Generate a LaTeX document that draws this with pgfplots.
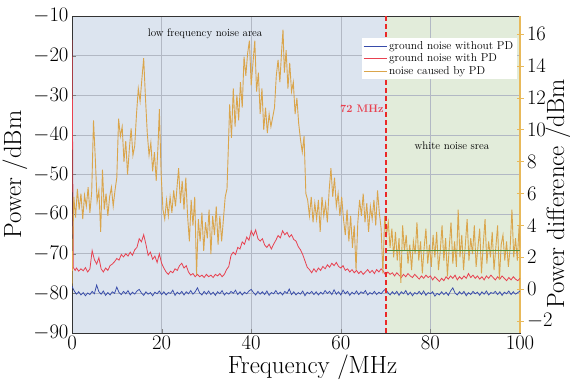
\documentclass[border=0pt]{standalone}
\usepackage{pgfplots}
\pgfplotsset{compat=1.18}
\usetikzlibrary{calc}
\definecolor{cblue}{RGB}{55,75,170}
\definecolor{cred}{RGB}{232,65,80}
\definecolor{cdash}{RGB}{235,40,40}
\definecolor{corange}{RGB}{218,165,75}
\definecolor{bgblue}{RGB}{220,228,239}
\definecolor{bggreen}{RGB}{226,236,218}
\definecolor{cgreen}{RGB}{80,140,60}
\definecolor{gridc}{RGB}{178,184,196}
\definecolor{raxis}{RGB}{232,185,90}
\begin{document}
\begin{tikzpicture}
\begin{axis}[name=main, set layers, scale only axis, width=448bp, height=317bp,
  xmin=0, xmax=100, ymin=-90, ymax=-10,
  xtick={0,20,...,100}, ytick={-90,-80,...,-10},
  grid=major, grid style={gridc, line width=0.5pt},
  tick align=inside, xtick pos=bottom, ytick pos=left,
  major tick length=4bp,
  tick label style={font=\fontsize{20.5}{20.5}\selectfont},
  xlabel={Frequency /MHz}, ylabel={Power /dBm},
  xlabel style={font=\fontsize{25}{25}\selectfont, at={(axis description cs:0.537,0)}, anchor=center, yshift=-34bp},
  ylabel style={font=\fontsize{25}{25}\selectfont, at={(axis description cs:0,0.5)}, anchor=center, yshift=57bp},
  axis line style={black!80, line width=0.8pt},
  clip=true]
\begin{pgfonlayer}{axis background}
\fill[bgblue] (axis cs:0,-90) rectangle (axis cs:70,-10);
\fill[bggreen] (axis cs:70,-90) rectangle (axis cs:100,-10);
\end{pgfonlayer}
\addplot[cblue, line width=0.75pt] coordinates {
(0,-78.2)(0.5,-79.4)(1,-80.2)(1.5,-79.6)(2,-80.4)(2.5,-79.8)(3,-80.6)(3.5,-79.9)(4,-80.3)(4.5,-79.5)
(5,-80.1)(5.5,-77.9)(6,-79.6)(6.5,-80.2)(7,-79.4)(7.5,-80.5)(8,-79.8)(8.5,-80.4)(9,-79.6)(9.5,-80.0)
(10,-78.4)(10.5,-79.8)(11,-80.3)(11.5,-79.5)(12,-80.1)(12.5,-79.3)(13,-80.4)(13.5,-79.7)(14,-80.2)(14.5,-79.4)
(15,-79.0)(15.5,-79.9)(16,-80.5)(16.5,-79.6)(17,-80.2)(17.5,-79.8)(18,-80.6)(18.5,-79.7)(19,-80.1)(19.5,-79.4)
(20,-80.3)(20.5,-79.6)(21,-80.4)(21.5,-79.8)(22,-80.0)(22.5,-79.2)(23,-80.5)(23.5,-79.7)(24,-80.2)(24.5,-79.5)
(25,-80.4)(25.5,-79.6)(26,-80.1)(26.5,-79.3)(27,-80.2)(27.5,-79.6)(28,-78.6)(28.5,-79.9)(29,-80.4)(29.5,-79.5)
(30,-80.2)(30.5,-79.4)(31,-80.3)(31.5,-79.7)(32,-80.5)(32.5,-79.6)(33,-80.1)(33.5,-79.3)(34,-80.4)(34.5,-79.8)
(35,-80.2)(35.5,-79.5)(36,-80.0)(36.5,-79.2)(37,-80.3)(37.5,-79.6)(38,-80.4)(38.5,-79.7)(39,-80.1)(39.5,-79.4)
(40,-79.0)(40.5,-79.8)(41,-80.4)(41.5,-79.5)(42,-80.2)(42.5,-79.6)(43,-80.3)(43.5,-79.4)(44,-80.5)(44.5,-79.8)
(45,-80.1)(45.5,-79.3)(46,-80.2)(46.5,-79.7)(47,-80.4)(47.5,-79.5)(48,-80.0)(48.5,-78.9)(49,-80.3)(49.5,-79.6)
(50,-80.4)(50.5,-79.8)(51,-80.2)(51.5,-79.4)(52,-80.6)(52.5,-79.7)(53,-80.1)(53.5,-79.5)(54,-80.3)(54.5,-79.6)
(55,-80.4)(55.5,-79.7)(56,-80.2)(56.5,-79.3)(57,-80.0)(57.5,-79.5)(58,-80.3)(58.5,-79.1)(59,-80.2)(59.5,-79.6)
(60,-80.4)(60.5,-79.2)(61,-80.1)(61.5,-79.5)(62,-80.5)(62.5,-79.7)(63,-80.2)(63.5,-79.4)(64,-80.3)(64.5,-79.6)
(65,-80.0)(65.5,-79.3)(66,-80.4)(66.5,-79.8)(67,-80.2)(67.5,-79.5)(68,-80.3)(68.5,-79.7)(69,-80.1)(69.5,-79.4)
(70,-78.9)(70.5,-79.8)(71,-80.4)(71.5,-79.6)(72,-80.2)(72.5,-79.5)(73,-80.5)(73.5,-79.6)(74,-80.1)(74.5,-79.3)
(75,-80.4)(75.5,-79.7)(76,-80.6)(76.5,-79.8)(77,-80.2)(77.5,-79.5)(78,-80.3)(78.5,-79.4)(79,-80.5)(79.5,-79.8)
(80,-80.1)(80.5,-79.6)(81,-80.7)(81.5,-80.0)(82,-80.4)(82.5,-79.6)(83,-80.3)(83.5,-79.7)(84,-80.5)(84.5,-79.4)
(85,-78.6)(85.5,-79.9)(86,-80.4)(86.5,-79.6)(87,-80.2)(87.5,-79.5)(88,-80.6)(88.5,-79.8)(89,-80.3)(89.5,-79.5)
(90,-80.1)(90.5,-79.7)(91,-80.5)(91.5,-79.6)(92,-80.2)(92.5,-79.4)(93,-80.4)(93.5,-79.8)(94,-80.0)(94.5,-79.5)
(95,-80.3)(95.5,-79.6)(96,-80.5)(96.5,-79.7)(97,-80.1)(97.5,-79.4)(98,-80.3)(98.5,-79.6)(99,-80.2)(99.5,-79.8)(100,-79.4)
};
\addplot[cred, line width=0.8pt] coordinates {
(0,-16)(0.3,-73.5)(0.7,-74.2)(1.0,-73.6)(1.5,-74.4)(2.0,-73.8)(2.5,-74.3)(3.0,-73.5)(3.5,-74.6)(4.0,-73.8)
(4.5,-69.2)(5.0,-71.5)(5.5,-72.6)(6.0,-71.0)(6.5,-73.8)(7.0,-74.6)(7.5,-73.6)(8.0,-74.2)(8.5,-73.0)(9.0,-72.6)
(9.5,-72.0)(10.0,-71.2)(10.5,-71.6)(11.0,-70.2)(11.5,-70.8)(12.0,-70.0)(12.5,-70.6)(13.0,-69.6)(13.5,-70.4)(14.0,-69.0)
(14.5,-68.4)(15.0,-66.2)(15.5,-67.0)(16.0,-65.2)(16.5,-67.6)(17.0,-70.4)(17.5,-69.6)(18.0,-71.4)(18.5,-70.6)(19.0,-72.2)
(19.5,-70.0)(20.0,-72.4)(20.5,-73.6)(21.0,-74.6)(21.5,-75.2)(22.0,-74.4)(22.5,-74.8)(23.0,-73.8)(23.5,-74.2)(24.0,-73.0)
(24.5,-72.4)(25.0,-73.6)(25.5,-73.0)(26.0,-74.6)(26.5,-75.4)(27.0,-75.0)(27.5,-75.8)(28.0,-75.2)(28.5,-75.8)(29.0,-75.4)
(29.5,-76.0)(30.0,-75.2)(30.5,-75.8)(31.0,-75.4)(31.5,-76.0)(32.0,-75.2)(32.5,-75.6)(33.0,-75.0)(33.5,-75.8)(34.0,-75.2)
(34.5,-74.0)(35.0,-73.2)(35.5,-70.4)(36.0,-69.6)(36.5,-70.2)(37.0,-68.4)(37.5,-68.8)(38.0,-67.0)(38.5,-67.6)(39.0,-65.8)
(39.5,-66.6)(40.0,-64.2)(40.5,-65.4)(41.0,-64.0)(41.5,-66.2)(42.0,-66.8)(42.5,-66.2)(43.0,-67.8)(43.5,-68.4)(44.0,-67.6)
(44.5,-68.8)(45.0,-67.6)(45.5,-66.6)(46.0,-65.4)(46.5,-66.0)(47.0,-64.2)(47.5,-65.2)(48.0,-64.6)(48.5,-65.8)(49.0,-65.2)
(49.5,-66.4)(50.0,-66.8)(50.5,-68.2)(51.0,-69.0)(51.5,-70.2)(52.0,-71.8)(52.5,-73.4)(53.0,-74.0)(53.5,-74.8)(54.0,-73.8)
(54.5,-74.6)(55.0,-73.6)(55.5,-74.2)(56.0,-73.2)(56.5,-73.8)(57.0,-72.8)(57.5,-73.4)(58.0,-72.4)(58.5,-73.0)(59.0,-72.2)
(59.5,-73.2)(60.0,-73.6)(60.5,-73.0)(61.0,-74.2)(61.5,-73.8)(62.0,-74.6)(62.5,-74.0)(63.0,-74.8)(63.5,-74.2)(64.0,-75.0)
(64.5,-74.4)(65.0,-75.2)(65.5,-74.6)(66.0,-74.0)(66.5,-74.8)(67.0,-74.2)(67.5,-75.0)(68.0,-74.0)(68.5,-74.6)(69.0,-73.8)
(69.5,-74.4)(70.0,-75.4)(70.5,-74.6)(71.0,-75.2)(71.5,-74.8)(72.0,-75.6)(72.5,-74.8)(73.0,-75.4)(73.5,-76.0)(74.0,-75.2)
(74.5,-75.8)(75.0,-75.0)(75.5,-75.6)(76.0,-76.0)(76.5,-75.2)(77.0,-75.8)(77.5,-76.4)(78.0,-75.6)(78.5,-76.2)(79.0,-75.4)
(79.5,-76.0)(80.0,-75.6)(80.5,-76.6)(81.0,-75.8)(81.5,-76.4)(82.0,-77.0)(82.5,-76.2)(83.0,-76.8)(83.5,-75.8)(84.0,-76.4)
(84.5,-75.6)(85.0,-76.2)(85.5,-75.4)(86.0,-76.6)(86.5,-75.8)(87.0,-76.4)(87.5,-75.6)(88.0,-76.2)(88.5,-75.0)(89.0,-76.0)
(89.5,-75.4)(90.0,-76.2)(90.5,-75.6)(91.0,-76.4)(91.5,-75.8)(92.0,-76.6)(92.5,-75.6)(93.0,-76.2)(93.5,-75.4)(94.0,-76.0)
(94.5,-76.6)(95.0,-75.8)(95.5,-76.4)(96.0,-75.6)(96.5,-76.2)(97.0,-76.8)(97.5,-76.0)(98.0,-76.6)(98.5,-75.8)(99.0,-76.4)
(99.5,-76.8)(100,-76.2)
};
\node[font=\fontsize{11}{11}\selectfont] at (axis cs:29.7,-14.5) {low frequency noise area};
\node[font=\fontsize{11}{11}\selectfont\bfseries, text=cred] at (axis cs:64.7,-33.3) {72 MHz};
\node[font=\fontsize{11}{11}\selectfont] at (axis cs:84.8,-42.8) {white noise srea};
\end{axis}
\begin{axis}[set layers, scale only axis, width=448bp, height=317bp,
  xmin=0, xmax=100, ymin=-2.75, ymax=17.15,
  axis x line=none, axis y line*=right,
  ytick={-2,0,...,16},
  y axis line style={raxis, line width=1.2pt},
  ytick style={raxis, line width=0.8pt},
  tick align=center, major tick length=7bp,
  tick label style={font=\fontsize{20.5}{20.5}\selectfont},
  ylabel={Power difference /dBm},
  ylabel style={font=\fontsize{25}{25}\selectfont, at={(axis description cs:1,0.44)}, anchor=center, yshift=-38bp},
  legend style={at={(rel axis cs:0.993,0.931)}, anchor=north east, draw=none, fill=white,
    font=\fontsize{11.5}{13}\selectfont, inner sep=1.5pt, row sep=-1pt},
  legend cell align=left,
  legend image code/.code={\draw[#1] (0bp,0bp) -- (23bp,0bp);},
  clip=true]
\addlegendimage{cblue, line width=0.8pt}
\addlegendentry{ground noise without PD}
\addlegendimage{cred, line width=0.8pt}
\addlegendentry{ground noise with PD}
\addplot[corange, line width=0.9pt] coordinates {
(0.0,0.2)(0.2,3.0)(0.4,5.8)(0.8,4.5)(1.2,6.3)(1.6,5.0)(2.0,6.0)(2.4,4.4)(2.8,5.9)(3.2,5.2)
(3.6,6.4)(4.0,4.8)(4.4,6.1)(4.8,10.6)(5.2,8.2)(5.6,5.5)(6.0,6.2)(6.4,3.6)(6.8,7.5)(7.2,5.0)
(7.6,6.0)(8.0,4.6)(8.4,5.8)(8.8,6.4)(9.2,5.2)(9.6,6.2)(10.0,7.0)(10.4,10.7)(10.8,9.6)(11.2,10.2)
(11.6,8.0)(12.0,9.3)(12.4,7.2)(12.8,8.8)(13.2,10.1)(13.6,8.4)(14.0,9.0)(14.4,11.0)(14.8,12.6)(15.2,11.8)
(15.6,13.2)(16.0,14.5)(16.4,12.0)(16.8,9.8)(17.2,8.4)(17.6,9.2)(18.0,7.4)(18.4,8.6)(18.8,6.8)(19.2,9.0)
(19.5,11.3)(19.9,7.2)(20.3,5.0)(20.7,4.4)(21.1,5.6)(21.5,4.6)(21.9,5.8)(22.3,4.8)(22.7,6.2)(23.1,5.2)
(23.5,6.6)(23.8,7.6)(24.2,5.4)(24.6,6.8)(25.0,5.0)(25.4,7.0)(25.8,4.6)(26.2,3.0)(26.6,5.6)(27.0,4.0)
(27.4,5.8)(27.8,0.9)(28.2,4.4)(28.6,3.0)(29.0,4.8)(29.4,2.4)(29.8,4.2)(30.2,3.2)(30.6,5.0)(31.0,2.2)
(31.4,4.6)(31.8,3.4)(32.2,5.2)(32.6,2.8)(33.0,4.6)(33.4,3.0)(33.8,4.4)(34.2,5.8)(34.6,6.3)(34.9,8.9)
(35.2,11.6)(35.6,9.5)(36.0,12.6)(36.4,10.2)(36.8,12.2)(37.2,10.6)(37.6,13.0)(38.0,11.4)(38.4,14.6)(38.8,13.4)
(39.2,14.8)(39.6,15.6)(40.0,12.8)(40.4,14.2)(40.8,15.6)(41.2,12.4)(41.6,13.6)(42.0,11.0)(42.4,12.6)(42.8,10.0)
(43.2,11.4)(43.6,9.8)(44.0,11.0)(44.4,10.2)(44.8,10.8)(45.2,11.4)(45.6,13.4)(46.0,14.4)(46.4,13.0)(46.8,15.0)
(47.1,16.3)(47.4,13.6)(47.8,15.0)(48.2,12.6)(48.6,14.2)(49.0,12.4)(49.4,13.0)(49.8,11.0)(50.2,12.0)(50.6,10.4)
(51.0,9.4)(51.4,8.6)(51.8,9.6)(52.2,6.0)(52.6,5.6)(53.0,4.6)(53.4,5.8)(53.8,4.2)(54.2,5.4)(54.6,4.4)
(55.0,5.6)(55.4,3.6)(55.8,5.8)(56.2,4.6)(56.6,5.4)(57.0,4.2)(57.4,6.2)(57.8,7.6)(58.2,5.8)(58.6,7.0)
(59.0,5.2)(59.4,6.0)(59.8,4.6)(60.2,5.8)(60.6,4.4)(61.0,3.4)(61.4,5.0)(61.8,3.0)(62.2,4.6)(62.6,2.6)
(63.0,4.0)(63.4,1.2)(63.8,4.2)(64.2,5.6)(64.6,4.6)(65.0,6.0)(65.4,4.2)(65.8,5.4)(66.2,3.6)(66.6,5.2)
(67.0,4.4)(67.4,5.6)(67.8,4.0)(68.2,6.2)(68.6,4.8)(69.0,3.8)(69.4,1.0)(69.8,4.6)(70.2,3.4)(70.6,4.2)
(71.0,2.6)(71.4,3.8)(71.8,2.0)(72.2,3.6)(72.6,1.8)(73.0,3.2)(73.4,0.4)(73.8,4.0)(74.2,2.4)(74.6,3.4)
(75.0,1.6)(75.4,2.8)(75.8,1.2)(76.2,3.0)(76.6,2.2)(77.0,4.2)(77.4,1.8)(77.8,3.0)(78.2,1.0)(78.6,2.6)
(79.0,3.8)(79.4,1.6)(79.8,2.8)(80.2,1.4)(80.6,3.4)(81.0,2.0)(81.4,3.6)(81.8,1.2)(82.2,2.4)(82.6,4.0)
(83.0,1.8)(83.4,3.2)(83.8,0.8)(84.2,2.6)(84.6,4.2)(85.0,1.6)(85.4,3.0)(85.8,1.4)(86.2,5.0)(86.6,2.0)
(87.0,3.4)(87.4,1.2)(87.8,2.8)(88.2,4.4)(88.6,1.8)(89.0,3.2)(89.4,2.2)(89.8,4.0)(90.2,1.4)(90.6,2.6)
(91.0,3.8)(91.4,1.0)(91.8,2.8)(92.2,4.4)(92.6,1.6)(93.0,3.0)(93.4,2.0)(93.8,3.6)(94.2,1.2)(94.6,2.6)
(95.0,4.0)(95.4,0.6)(95.8,2.8)(96.2,3.4)(96.6,1.8)(97.0,3.0)(97.4,1.4)(97.8,2.6)(98.2,5.0)(98.6,2.0)
(99.0,3.2)(99.4,1.8)(99.8,4.0)(100.0,2.6)
};
\addlegendentry{noise caused by PD}
\addplot[cgreen, line width=0.9pt, forget plot] coordinates {(70,2.45)(100,2.45)};
\addplot[draw=cdash, line width=1.8pt, dash pattern=on 5bp off 3bp, forget plot] coordinates {(70,-2.75)(70,17.15)};
\end{axis}
\pgfresetboundingbox
\path ($(main.south west)+(-72bp,-48bp)$) rectangle ($(main.north east)+(50bp,16bp)$);
\end{tikzpicture}
\end{document}
